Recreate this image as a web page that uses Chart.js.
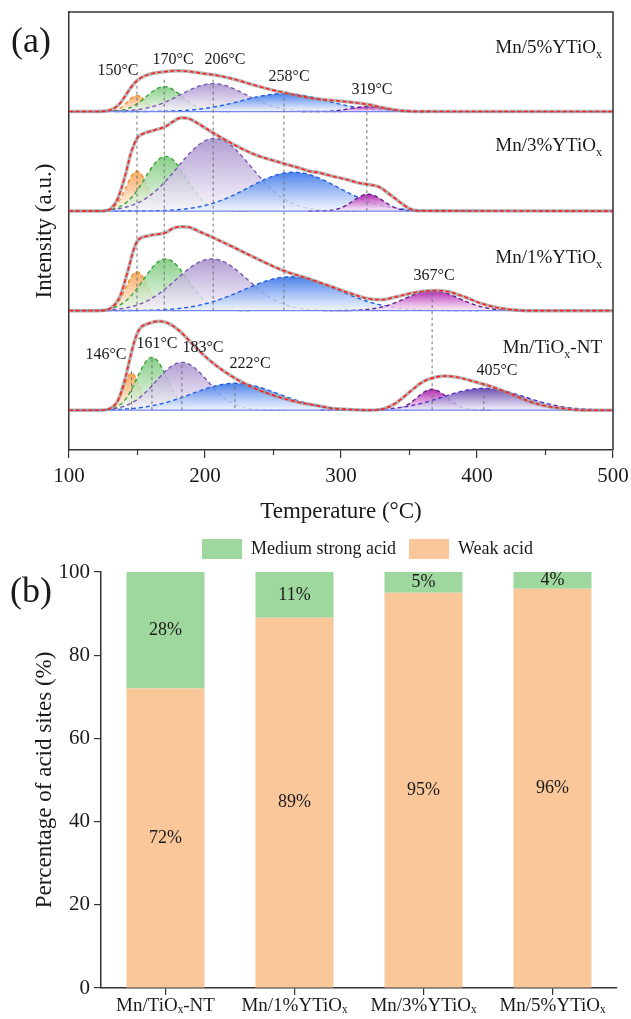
<!DOCTYPE html>
<html>
<head>
<meta charset="utf-8">
<script src="https://cdn.jsdelivr.net/npm/chart.js@4.4.1/dist/chart.umd.min.js"></script>
<style>
  html, body { margin: 0; padding: 0; background: #fff; }
  #wrap { position: relative; width: 631px; height: 1019px; overflow: hidden; }
  #tpd { position: absolute; left: 0; top: 0; }
  #acid { position: absolute; left: 0; top: 529px; }
</style>
</head>
<body>
<div id="wrap">
  <canvas id="tpd" width="631" height="529"></canvas>
  <canvas id="acid" width="631" height="490"></canvas>
</div>
<script>
const SERIF = '"Liberation Serif", "Times New Roman", serif';

// ---------------- (a) NH3-TPD profiles ----------------
const sampleNames = ['Mn/5%YTiOx', 'Mn/3%YTiOx', 'Mn/1%YTiOx', 'Mn/TiOx-NT'];
const sampleOffset = [340, 240, 140, 40];          // vertical stacking of the profiles (a.u.)
const tempTicks = [100, 200, 300, 400, 500];
const tempMinorTicks = [150, 250, 350, 450];

// measured desorption signal: temperature (°C) and intensity above the sample's own baseline
const profileT_5 = [100,120,127,133,138,142,146,150,155,162,170,180,190,200,210,220,235,250,258,270,280,295,306,315,322,330,338,345,355,500];
const profileI_5 = [0,0,0.5,3,9,17,25,31,35.5,38.5,40,41,40,38,36,33,27,21.5,19,15.5,13,11,9.5,8,6.5,4,2,0.8,0,0];

const profileT_3 = [100,122,127,131,136,141,145.5,150.5,155,162,171,176.5,182.5,188.5,196,207,220,235,258,270,277,284,291,306,313,320,328,335,343,350,357,500];
const profileI_3 = [0,0,0.3,2.7,13,34,58,74,78,81,85,90,93.7,92.7,87,77.7,67.7,57.7,47.7,43,40,38.5,36,31,28.3,26.7,24.3,17.7,9.3,2.7,0.3,0];

const profileT_1 = [100,122,126,131,137.5,143.5,147.5,150.5,158,165,171,176.5,182.5,188.5,196,207,220,235,258,277,291,306,320,330,340,354.5,369,379,391,403.5,416,428,436,500];
const profileI_1 = [0,0,0.3,2.7,14.3,41,61,70.3,75,76.7,78.3,82.7,84.3,83.7,79.3,72.7,64.3,54.3,40,31.7,25,17.7,12,11,13.7,18.3,20.3,19,13.7,7,2.7,0.7,0,0];

const profileT_NT = [100,122,130,136,141,144.5,148.3,152,159,166.5,173,181,188.3,198,208,222.5,237,254,271,285,292,306,321,331,340.5,350.5,360,370,377,387,399,411.5,424,436,448,463,478,500];
const profileI_NT = [0,0,1.7,10,30,50,70,81.7,87.3,89.3,87.3,80,70,56.7,45,31.7,21.7,13.3,7.3,4,2,0.7,0,1.3,7.3,18.3,28.3,33.3,34.3,32.7,28.3,23.3,16.7,10,5,1.7,0,0];

// deconvoluted Gaussian components: centre (°C), height (a.u.), standard width (°C)
const peakCentre_5 = [150, 170, 206, 258, 319];
const peakHeight_5 = [16, 25, 28, 18, 5];
const peakWidth_5  = [7, 13, 24, 31, 12];

const peakCentre_3 = [150, 171, 207, 265, 320];
const peakHeight_3 = [40, 55, 73, 39, 17];
const peakWidth_3  = [8, 15, 27, 33, 11];

const peakCentre_1 = [150, 171, 205, 263, 367];
const peakHeight_1 = [39, 52, 52, 34, 20];
const peakWidth_1  = [8, 16, 26, 35, 20];

const peakCentre_NT = [146, 161, 183, 222, 367, 405];
const peakHeight_NT = [37, 53, 48, 27, 21, 22];
const peakWidth_NT  = [6, 11, 19, 32, 11, 30];

// peak call-outs: sample index, component index, dashed guide from "end" up to "top" (a.u.)
const calloutSample = [0, 0, 0, 0, 0, 2, 3, 3, 3, 3, 3];
const calloutPeak   = [0, 1, 2, 3, 4, 4, 0, 1, 2, 3, 5];
const calloutTop    = [370, 374.5, 372.5, 358.5, 346, 160, 82, 93.8, 87.7, 67.6, 67];
const calloutEnd    = [140, 140, 140, 140, 240, 40, 40, 40, 40, 42, 40];

// ---------------- (b) acid site distribution ----------------
const catalysts = ['Mn/TiOₓ-NT', 'Mn/1%YTiOₓ', 'Mn/3%YTiOₓ', 'Mn/5%YTiOₓ'];
const weakAcid = [72, 89, 95, 96];
const mediumStrongAcid = [28, 11, 5, 4];
const pctTicks = [0, 20, 40, 60, 80, 100];

// ---------------- styling / layout ----------------
const profiles = [
  { T: profileT_5, I: profileI_5, c: peakCentre_5, h: peakHeight_5, w: peakWidth_5 },
  { T: profileT_3, I: profileI_3, c: peakCentre_3, h: peakHeight_3, w: peakWidth_3 },
  { T: profileT_1, I: profileI_1, c: peakCentre_1, h: peakHeight_1, w: peakWidth_1 },
  { T: profileT_NT, I: profileI_NT, c: peakCentre_NT, h: peakHeight_NT, w: peakWidth_NT }
];
const componentKindsPerSample = [
  ['orange', 'green', 'lavender', 'blue', 'magenta'],
  ['orange', 'green', 'lavender', 'blue', 'magenta'],
  ['orange', 'green', 'lavender', 'blue', 'magenta'],
  ['orange', 'green', 'lavender', 'blue', 'magenta', 'violet']
];
const peakStyle = {
  orange:   { line: '#f0902e', top: 'rgba(246,162,80,0.9)',  bottom: 'rgba(255,244,234,0.8)' },
  green:    { line: '#36a536', top: 'rgba(116,198,116,0.85)', bottom: 'rgba(240,249,240,0.8)' },
  lavender: { line: '#7a58b2', top: 'rgba(166,144,204,0.88)', bottom: 'rgba(247,244,252,0.8)' },
  blue:     { line: '#1f5fea', top: 'rgba(56,116,232,0.9)',  bottom: 'rgba(240,245,255,0.8)' },
  magenta:  { line: '#62208c', top: 'rgba(170,20,170,0.92)', bottom: 'rgba(251,236,251,0.8)' },
  violet:   { line: '#5632cc', top: 'rgba(90,60,168,0.9)',   bottom: 'rgba(241,237,251,0.8)' }
};
// call-out text anchors (temperature, a.u.) and sample-name anchors (right edge)
const calloutAt = [[136,381],[176.5,392],[214.7,392],[261.8,375],[322.8,362],[368.4,175],[127.2,95.5],[164.7,106.5],[198.5,102.5],[233.1,86.4],[414.7,79.4]];
const nameAt = [[491.9,405],[491.9,306.5],[491.9,194],[491.9,103.5]];

function gaussianPeak(centre, height, width, base) {
  const pts = [];
  const from = Math.max(100, Math.floor(centre - 4 * width));
  const to = Math.min(500, Math.ceil(centre + 4 * width));
  for (let t = from; t <= to; t += 0.5) {
    pts.push({ x: t, y: base + height * Math.exp(-((t - centre) ** 2) / (2 * width * width)) });
  }
  return pts;
}

function verticalFade(style, base, height) {
  return (ctx) => {
    const chart = ctx.chart;
    if (!chart.chartArea) return style.top;
    const ys = chart.scales.y;
    const y0 = ys.getPixelForValue(base + height);
    const y1 = ys.getPixelForValue(base);
    const g = chart.ctx.createLinearGradient(0, y0, 0, y1);
    g.addColorStop(0, style.top);
    g.addColorStop(1, style.bottom);
    return g;
  };
}

const tpdDatasets = [];
profiles.forEach((p, k) => {
  const base = sampleOffset[k];
  const signal = p.T.map((t, i) => ({ x: t, y: base + p.I[i] }));
  tpdDatasets.push({ data: signal, borderColor: '#ff2020', borderWidth: 1.6, borderDash: [4, 2.5],
    cubicInterpolationMode: 'monotone', fill: false, order: 0 });
  tpdDatasets.push({ data: signal, borderColor: 'rgba(150,150,150,0.7)', borderWidth: 3.5,
    cubicInterpolationMode: 'monotone', fill: false, order: 1 });
  tpdDatasets.push({ data: [{ x: 100, y: base }, { x: 500, y: base }], borderColor: '#7486f0',
    borderWidth: 1.3, fill: false, order: 3 });
  p.c.forEach((c, j) => {
    const st = peakStyle[componentKindsPerSample[k][j]];
    tpdDatasets.push({
      data: gaussianPeak(c, p.h[j], p.w[j], base),
      borderColor: st.line, borderWidth: 1.4, borderDash: [4, 3],
      fill: { value: base }, backgroundColor: verticalFade(st, base, p.h[j]),
      order: 20 - j
    });
  });
});
calloutSample.forEach((s, n) => {
  const t = profiles[s].c[calloutPeak[n]];
  tpdDatasets.push({ data: [{ x: t, y: calloutEnd[n] }, { x: t, y: calloutTop[n] }],
    borderColor: '#6f6f6f', borderWidth: 1, borderDash: [3, 3], fill: false, order: 2 });
});

function drawSampleName(ctx, name, xRight, yMid, size) {
  const i = name.indexOf('TiOx');
  const main1 = name.slice(0, i + 3);
  const sub = 'x';
  const main2 = name.slice(i + 4);
  const subSize = Math.round(size * 0.64);
  ctx.font = `${size}px ${SERIF}`;
  const w1 = ctx.measureText(main1).width;
  const w3 = ctx.measureText(main2).width;
  ctx.font = `${subSize}px ${SERIF}`;
  const w2 = ctx.measureText(sub).width;
  let x = xRight - (w1 + w2 + w3);
  const baseY = yMid + size * 0.33;
  ctx.textAlign = 'left';
  ctx.textBaseline = 'alphabetic';
  ctx.font = `${size}px ${SERIF}`;
  ctx.fillText(main1, x, baseY);
  x += w1;
  ctx.font = `${subSize}px ${SERIF}`;
  ctx.fillText(sub, x, baseY + size * 0.26);
  x += w2;
  ctx.font = `${size}px ${SERIF}`;
  ctx.fillText(main2, x, baseY);
}

const tpdDecor = {
  id: 'tpdDecor',
  afterDraw(chart) {
    const { ctx, chartArea: a, scales: { x, y } } = chart;
    ctx.save();
    ctx.strokeStyle = '#333';
    ctx.lineWidth = 1.5;
    ctx.beginPath();
    ctx.moveTo(a.left, a.top);
    ctx.lineTo(a.right, a.top);
    ctx.lineTo(a.right, a.bottom);
    ctx.stroke();
    ctx.lineWidth = 1.2;
    tempMinorTicks.forEach(t => {
      const px = Math.round(x.getPixelForValue(t)) + 0.5;
      ctx.beginPath();
      ctx.moveTo(px, a.bottom);
      ctx.lineTo(px, a.bottom + 5);
      ctx.stroke();
    });
    ctx.fillStyle = '#1a1a1a';
    ctx.font = `16px ${SERIF}`;
    ctx.textAlign = 'center';
    ctx.textBaseline = 'middle';
    calloutSample.forEach((s, n) => {
      const t = profiles[s].c[calloutPeak[n]];
      ctx.fillText(`${t}°C`, x.getPixelForValue(calloutAt[n][0]), y.getPixelForValue(calloutAt[n][1]));
    });
    sampleNames.forEach((nm, k) => {
      drawSampleName(ctx, nm, x.getPixelForValue(nameAt[k][0]), y.getPixelForValue(nameAt[k][1]), 19);
    });
    ctx.font = `36px ${SERIF}`;
    ctx.textAlign = 'center';
    ctx.textBaseline = 'middle';
    ctx.fillText('(a)', 31, 43);
    ctx.restore();
  }
};

new Chart(document.getElementById('tpd'), {
  type: 'line',
  data: { datasets: tpdDatasets },
  plugins: [tpdDecor],
  options: {
    responsive: false,
    animation: false,
    parsing: false,
    layout: { padding: { top: 12, right: 18, left: 0, bottom: 0 } },
    plugins: { legend: { display: false }, tooltip: { enabled: false } },
    elements: { point: { radius: 0 }, line: { tension: 0 } },
    scales: {
      x: {
        type: 'linear', min: 100, max: 500,
        afterBuildTicks: s => { s.ticks = tempTicks.map(v => ({ value: v })); },
        afterFit: s => { s.height = 79; s.paddingLeft = 0; s.paddingRight = 0; },
        ticks: { font: { family: SERIF, size: 21 }, color: '#1a1a1a', padding: 6, maxRotation: 0 },
        grid: { display: true, drawOnChartArea: false, tickLength: 8, color: '#333', lineWidth: 1.2 },
        border: { display: true, color: '#333', width: 1.5 },
        title: { display: true, text: 'Temperature (°C)', font: { family: SERIF, size: 23 }, color: '#1a1a1a', padding: { top: 0, bottom: 3 } }
      },
      y: {
        min: 0, max: 440,
        afterFit: s => { s.width = 69; },
        ticks: { display: false },
        grid: { display: false },
        border: { display: true, color: '#333', width: 1.5 },
        title: { display: true, text: 'Intensity (a.u.)', font: { family: SERIF, size: 23 }, color: '#1a1a1a', padding: { top: 31, bottom: 0 } }
      }
    }
  }
});

// ---------------- (b) stacked bars ----------------
const barValueLabels = {
  id: 'barValueLabels',
  afterDatasetsDraw(chart) {
    const ctx = chart.ctx;
    ctx.save();
    ctx.font = `18px ${SERIF}`;
    ctx.fillStyle = '#1a1a1a';
    ctx.textAlign = 'center';
    ctx.textBaseline = 'middle';
    chart.data.datasets.forEach((ds, di) => {
      chart.getDatasetMeta(di).data.forEach((bar, i) => {
        const { x, y, base } = bar.getProps(['x', 'y', 'base'], true);
        ctx.fillText(ds.data[i] + '%', x, (y + base) / 2);
      });
    });
    ctx.restore();
  },
  afterDraw(chart) {
    const ctx = chart.ctx;
    ctx.save();
    ctx.fillStyle = '#1a1a1a';
    ctx.font = `36px ${SERIF}`;
    ctx.textAlign = 'center';
    ctx.textBaseline = 'middle';
    ctx.fillText('(b)', 31, 64);
    ctx.restore();
  }
};

// legend sits above the bars, offset to the right of the canvas centre
const legendPlacement = {
  id: 'legendPlacement',
  afterLayout(chart) {
    const lg = chart.legend;
    if (!lg) return;
    lg.left += 189; lg.right += 189;
    lg.top -= 3; lg.bottom -= 3;
  }
};

new Chart(document.getElementById('acid'), {
  type: 'bar',
  data: {
    labels: catalysts,
    datasets: [
      { label: 'Weak acid', data: weakAcid, backgroundColor: '#fac79a', borderWidth: 0 },
      { label: 'Medium strong acid', data: mediumStrongAcid, backgroundColor: '#9fd89e', borderWidth: 0 }
    ]
  },
  plugins: [barValueLabels, legendPlacement],
  options: {
    responsive: false,
    animation: false,
    layout: { padding: { top: 0, right: 14, left: 0, bottom: 0 } },
    datasets: { bar: { categoryPercentage: 1, barPercentage: 0.605 } },
    plugins: {
      tooltip: { enabled: false },
      legend: {
        display: true, position: 'top', align: 'start',
        labels: {
          boxWidth: 40, boxHeight: 20, padding: 13,
          font: { family: SERIF, size: 18 }, color: '#1a1a1a',
          sort: (a, b) => b.datasetIndex - a.datasetIndex
        }
      }
    },
    scales: {
      x: {
        stacked: true,
        afterFit: s => { s.height = 31; },
        grid: { display: true, drawOnChartArea: false, offset: false, tickLength: 7, color: '#333', lineWidth: 1.2 },
        border: { display: true, color: '#333', width: 1.5 },
        ticks: { font: { family: SERIF, size: 19 }, color: '#1a1a1a', padding: 0, maxRotation: 0, autoSkip: false }
      },
      y: {
        stacked: true, min: 0, max: 100,
        afterBuildTicks: s => { s.ticks = pctTicks.map(v => ({ value: v })); },
        afterFit: s => { s.width = 101; },
        ticks: { font: { family: SERIF, size: 21 }, color: '#1a1a1a', padding: 4 },
        grid: { display: true, drawOnChartArea: false, tickLength: 7, color: '#333', lineWidth: 1.2 },
        border: { display: true, color: '#333', width: 1.5 },
        title: { display: true, text: 'Percentage of acid sites (%)', font: { family: SERIF, size: 23 }, color: '#1a1a1a', padding: { top: 31, bottom: 0 } }
      }
    }
  }
});
</script>
</body>
</html>
